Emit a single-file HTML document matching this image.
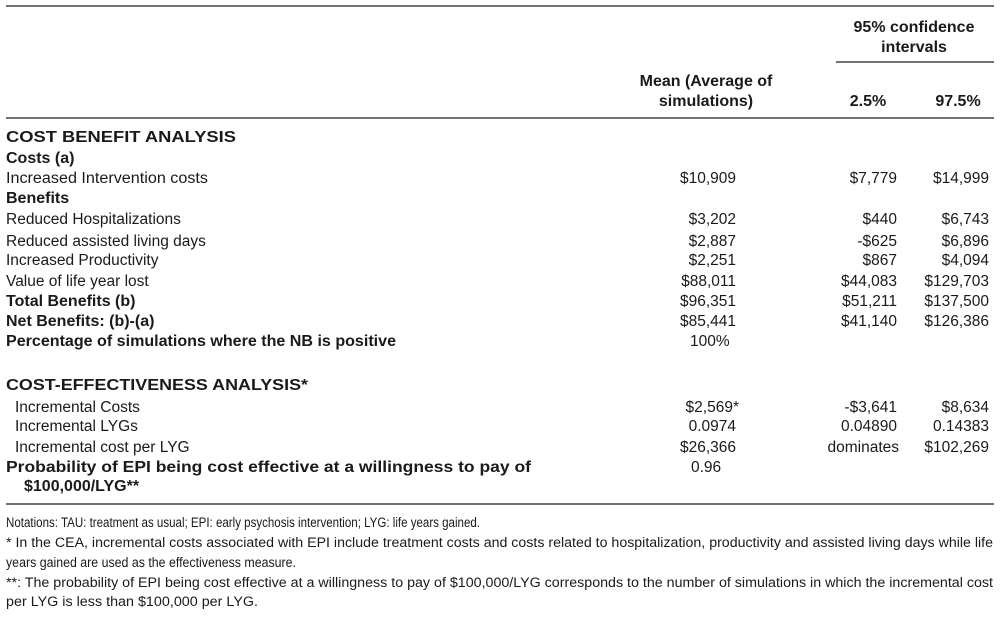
<!DOCTYPE html>
<html><head><meta charset="utf-8"><style>
html,body{margin:0;padding:0;background:#fff}
svg{display:block}
text{font-family:"Liberation Sans",sans-serif;fill:#1a1a1a;font-size:15.5px}
.b{font-weight:bold;font-size:16px}
.r{text-anchor:end}
.c{text-anchor:middle}
.f{font-size:13.5px}
</style></head><body>
<svg width="1000" height="617" viewBox="0 0 1000 617">
<g stroke="#444" stroke-width="1.6">
<line x1="6" y1="6" x2="994" y2="6"/>
<line x1="836" y1="62" x2="994" y2="62"/>
<line x1="6" y1="118" x2="994" y2="118"/>
<line x1="6" y1="504" x2="994" y2="504"/>
</g>
<text class="b c" x="914" y="32">95% confidence</text>
<text class="b c" x="914" y="52">intervals</text>
<text class="b c" x="706" y="86">Mean (Average of</text>
<text class="b c" x="706" y="106">simulations)</text>
<text class="b c" x="868" y="106">2.5%</text>
<text class="b c" x="958" y="106">97.5%</text>

<g lengthAdjust="spacingAndGlyphs">
<text class="b" x="6" y="142" textLength="230" lengthAdjust="spacingAndGlyphs">COST BENEFIT ANALYSIS</text>
<text class="b" x="6" y="163">Costs (a)</text>
<text x="6" y="183" textLength="202" lengthAdjust="spacingAndGlyphs">Increased Intervention costs</text>
<text class="b" x="6" y="203">Benefits</text>
<text x="6" y="224">Reduced Hospitalizations</text>
<text x="6" y="246">Reduced assisted living days</text>
<text x="6" y="265">Increased Productivity</text>
<text x="6" y="286">Value of life year lost</text>
<text class="b" x="6" y="306">Total Benefits (b)</text>
<text class="b" x="6" y="326">Net Benefits: (b)-(a)</text>
<text class="b" x="6" y="346" textLength="390" lengthAdjust="spacingAndGlyphs">Percentage of simulations where the NB is positive</text>
<text class="b" x="6" y="390" textLength="302" lengthAdjust="spacingAndGlyphs">COST-EFFECTIVENESS ANALYSIS*</text>
<text x="15" y="412">Incremental Costs</text>
<text x="15" y="431">Incremental LYGs</text>
<text x="15" y="452">Incremental cost per LYG</text>
<text class="b" x="6" y="472" textLength="525" lengthAdjust="spacingAndGlyphs">Probability of EPI being cost effective at a willingness to pay of</text>
<text class="b" x="24" y="491">$100,000/LYG**</text>
</g>

<text class="r" x="736" y="183">$10,909</text>
<text class="r" x="736" y="224">$3,202</text>
<text class="r" x="736" y="246">$2,887</text>
<text class="r" x="736" y="265">$2,251</text>
<text class="r" x="736" y="286">$88,011</text>
<text class="r" x="736" y="306">$96,351</text>
<text class="r" x="736" y="326">$85,441</text>
<text x="690" y="346">100%</text>
<text class="r" x="739" y="412">$2,569*</text>
<text class="r" x="736" y="431">0.0974</text>
<text class="r" x="736" y="452">$26,366</text>
<text x="691" y="472">0.96</text>

<text class="r" x="897" y="183">$7,779</text>
<text class="r" x="897" y="224">$440</text>
<text class="r" x="897" y="246">-$625</text>
<text class="r" x="897" y="265">$867</text>
<text class="r" x="897" y="286">$44,083</text>
<text class="r" x="897" y="306">$51,211</text>
<text class="r" x="897" y="326">$41,140</text>
<text class="r" x="897" y="412">-$3,641</text>
<text class="r" x="897" y="431">0.04890</text>
<text class="r" x="899" y="452">dominates</text>

<text class="r" x="989" y="183">$14,999</text>
<text class="r" x="989" y="224">$6,743</text>
<text class="r" x="989" y="246">$6,896</text>
<text class="r" x="989" y="265">$4,094</text>
<text class="r" x="989" y="286">$129,703</text>
<text class="r" x="989" y="306">$137,500</text>
<text class="r" x="989" y="326">$126,386</text>
<text class="r" x="989" y="412">$8,634</text>
<text class="r" x="989" y="431">0.14383</text>
<text class="r" x="989" y="452">$102,269</text>

<text class="f" x="6" y="527" textLength="474" lengthAdjust="spacingAndGlyphs">Notations: TAU: treatment as usual; EPI: early psychosis intervention; LYG: life years gained.</text>
<text class="f" x="6" y="547" textLength="987" lengthAdjust="spacingAndGlyphs">* In the CEA, incremental costs associated with EPI include treatment costs and costs related to hospitalization, productivity and assisted living days while life</text>
<text class="f" x="6" y="567" textLength="290" lengthAdjust="spacingAndGlyphs">years gained are used as the effectiveness measure.</text>
<text class="f" x="6" y="587" textLength="987" lengthAdjust="spacingAndGlyphs">**: The probability of EPI being cost effective at a willingness to pay of $100,000/LYG corresponds to the number of simulations in which the incremental cost</text>
<text class="f" x="6" y="606" textLength="252" lengthAdjust="spacingAndGlyphs">per LYG is less than $100,000 per LYG.</text>
</svg>
</body></html>
